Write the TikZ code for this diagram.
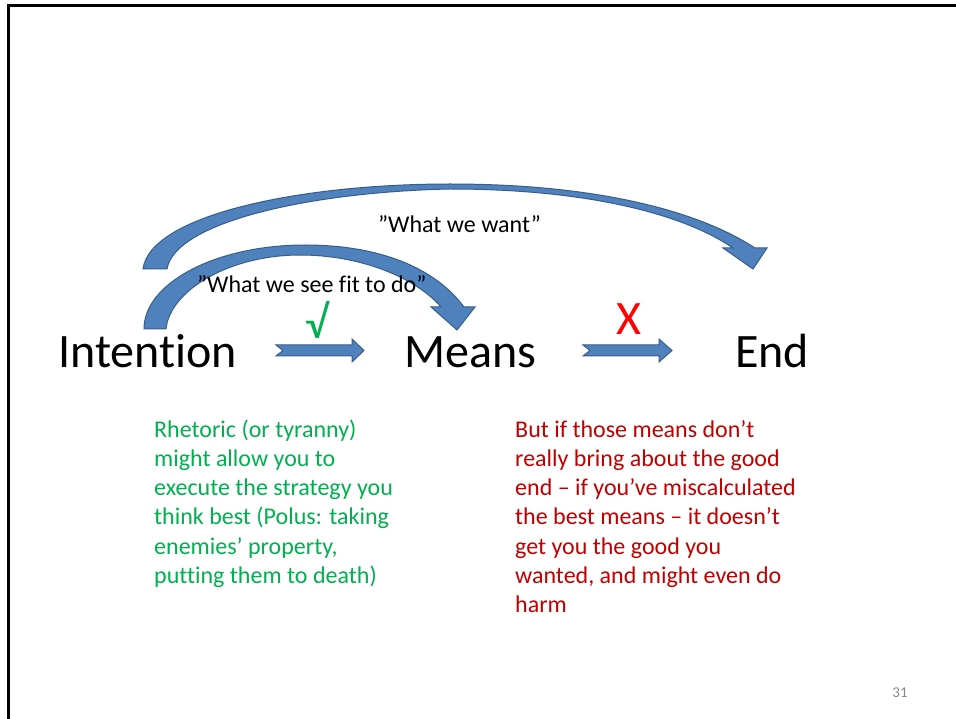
\documentclass[tikz,border=0pt]{standalone}
\usepackage{fontspec}
\setmainfont{Carlito}[Ligatures=NoCommon]
\definecolor{arrowfill}{RGB}{79,129,189}
\definecolor{arrowline}{RGB}{56,93,138}
\definecolor{okgreen}{RGB}{0,176,80}
\definecolor{warnred}{RGB}{192,0,0}
\definecolor{brightred}{RGB}{255,0,0}
\definecolor{pagegray}{RGB}{137,137,137}
\begin{document}
\begin{tikzpicture}[x=1pt,y=-1pt,
  blockarrow/.style={fill=arrowfill,draw=arrowline,line width=1pt,line join=miter},
  term/.style={anchor=base west,inner sep=0pt,font=\fontsize{48}{56}\selectfont},
  quote/.style={anchor=base west,inner sep=0pt,font=\fontsize{24}{29}\selectfont},
  note/.style={anchor=base west,inner sep=0pt,align=left,font=\fontsize{24}{29.3}\selectfont}]
\useasboundingbox (0,0) rectangle (956,719);
\fill[white] (0,0) rectangle (956,719);
% slide frame (top and left edges)
\draw[line width=3pt] (8.7,719) -- (8.7,5.5) -- (956,5.5);

% outer curved arrow: Intention -> End
\path[blockarrow]
  (143,269) .. controls (150,215) and (300,184) .. (450,184)
  .. controls (600,184) and (700,212) .. (755,248)
  -- (767,248) -- (753,269) -- (723,248) -- (733,248)
  .. controls (685,215) and (590,189) .. (450,189)
  .. controls (310,192) and (175,222) .. (167,269) -- cycle;

% inner curved arrow: Intention -> Means
\path[blockarrow]
  (144,329) .. controls (144,283) and (216,245) .. (305,245)
  .. controls (380,245) and (435,268) .. (464,307)
  -- (475,307) -- (457,330) -- (431,307) -- (441,307)
  .. controls (415,277) and (360,255) .. (300,255)
  .. controls (230,255) and (170,290) .. (166,329) -- cycle;

% straight block arrows
\path[blockarrow] (276,345) -- (352,345) -- (352,339) -- (364,350.5) -- (352,362)
  -- (352,356) -- (276,356) -- (283,350.5) -- cycle;
\path[blockarrow] (583,345) -- (659,345) -- (659,339) -- (672,350.5) -- (659,362)
  -- (659,356) -- (583,356) -- (590,350.5) -- cycle;

% terms
\node[term] (intention) at (58,367) {Intention};
\node[term] (means) at (404,367) {Means};
\node[term] (end) at (735,367) {End};

% arrow labels
\node[quote] (want) at (378,233) {”What we want”};
\node[quote] (fit) at (197,293) {”What we see fit to do”};
\node[anchor=base,inner sep=0pt,text=okgreen,font=\fontsize{46}{52}\selectfont] (check) at (317,339) {√};
\node[anchor=base,inner sep=0pt,text=brightred,font=\fontsize{48}{56}\selectfont] (cross) at (629,335) {X};

% notes (base anchor sits on the last line)
\node[note,text=okgreen] (good) at (154,583.5) {Rhetoric (or tyranny)\\might allow you to\\execute the strategy you\\think best (Polus: taking\\enemies’ property,\\putting them to death)};
\node[note,text=warnred] (bad) at (515,612.8) {But if those means don’t\\really bring about the good\\end – if you’ve miscalculated\\the best means – it doesn’t\\get you the good you\\wanted, and might even do\\harm};

% page number
\node[anchor=base,inner sep=0pt,text=pagegray,font=\fontsize{15}{18}\selectfont] (page) at (900,697) {31};
\end{tikzpicture}
\end{document}
